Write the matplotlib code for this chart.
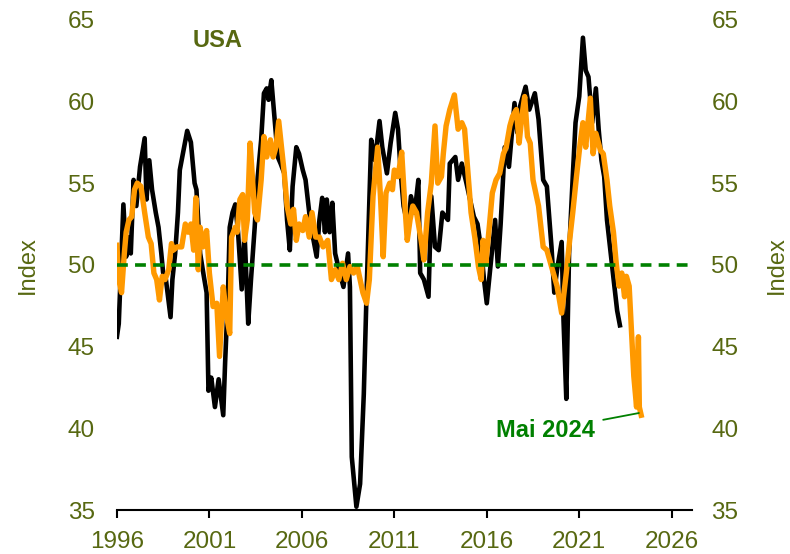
import matplotlib
matplotlib.use("Agg")
import matplotlib.pyplot as plt

plt.rcParams['font.family'] = ['Liberation Sans', 'DejaVu Sans']

# black series
black_years = [1996.0, 1996.1, 1996.35, 1996.5, 1996.6, 1996.75, 1996.9, 1997.05, 1997.25, 1997.5,
               1997.6, 1997.75, 1997.9, 1998.1, 1998.25, 1998.4, 1998.5, 1998.65, 1998.9, 1999.0,
               1999.15, 1999.3, 1999.4, 1999.6, 1999.8, 2000.0, 2000.2, 2000.3, 2000.5, 2000.7,
               2000.85, 2000.95, 2001.1, 2001.3, 2001.5, 2001.75, 2001.85, 2002.0, 2002.1, 2002.25,
               2002.4, 2002.55, 2002.75, 2002.9, 2003.1, 2003.25, 2003.45, 2003.6, 2003.8, 2003.95,
               2004.1, 2004.2, 2004.35, 2004.5, 2004.7, 2004.85, 2005.05, 2005.2, 2005.35, 2005.5,
               2005.7, 2005.85, 2006.05, 2006.2, 2006.4, 2006.6, 2006.8, 2006.95, 2007.1, 2007.25,
               2007.35, 2007.5, 2007.65, 2007.8, 2008.05, 2008.25, 2008.5, 2008.6, 2008.7, 2008.8,
               2008.95, 2009.15, 2009.35, 2009.5, 2009.65, 2009.75, 2009.95, 2010.2, 2010.35, 2010.6,
               2010.8, 2011.05, 2011.2, 2011.35, 2011.5, 2011.75, 2011.9, 2012.1, 2012.3, 2012.4,
               2012.6, 2012.85, 2013.0, 2013.2, 2013.4, 2013.6, 2013.9, 2014.0, 2014.3, 2014.45,
               2014.65, 2014.9, 2015.3, 2015.5, 2015.7, 2015.85, 2016.0, 2016.2, 2016.45, 2016.6,
               2016.75, 2016.97, 2017.2, 2017.5, 2017.65, 2017.8, 2018.1, 2018.3, 2018.6, 2018.8,
               2019.05, 2019.25, 2019.5, 2019.65, 2019.8, 2020.05, 2020.15, 2020.3, 2020.45, 2020.65,
               2020.8, 2021.0, 2021.2, 2021.35, 2021.5, 2021.7, 2021.9, 2022.05, 2022.2, 2022.35,
               2022.5, 2022.7, 2022.9, 2023.05, 2023.2]
black_values = [45.6, 46.4, 53.7, 50.5, 51.7, 50.7, 55.2, 53.6, 56.0, 57.75,
                54.0, 56.4, 54.6, 53.2, 52.3, 50.7, 49.5, 49.1, 46.8, 49.1,
                50.7, 53.2, 55.8, 57.0, 58.2, 57.5, 55.0, 54.6, 50.7, 49.3,
                48.3, 42.3, 43.1, 41.3, 43.0, 40.8, 44.0, 48.05, 52.3, 53.2,
                53.7, 52.0, 48.5, 52.0, 46.4, 49.1, 52.3, 55.2, 57.65, 60.5,
                60.8, 60.1, 61.3, 59.3, 56.6, 56.2, 55.6, 52.75, 50.9, 54.8,
                57.2, 56.8, 55.8, 55.2, 53.2, 51.7, 50.5, 52.75, 54.1, 52.0,
                54.0, 52.0, 53.8, 50.7, 49.5, 48.65, 50.7, 48.65, 38.25, 37.0,
                35.2, 36.6, 42.1, 48.3, 54.0, 57.65, 56.4, 58.8, 57.2, 55.6,
                57.45, 59.3, 58.3, 55.6, 53.6, 52.3, 54.2, 53.2, 55.2, 49.5,
                49.1, 48.05, 54.2, 51.1, 50.9, 53.2, 52.75, 56.2, 56.6, 55.2,
                56.2, 55.0, 52.95, 52.5, 50.9, 49.1, 47.65, 49.9, 52.75, 49.9,
                52.5, 57.2, 56.0, 59.9, 58.1, 59.7, 60.9, 59.5, 60.5, 58.9,
                55.2, 54.8, 51.1, 48.3, 49.7, 51.4, 46.6, 41.8, 50.7, 55.4,
                58.7, 60.3, 63.9, 61.9, 61.5, 58.7, 60.8, 58.3, 56.4, 55.4,
                52.75, 50.7, 48.7, 47.2, 46.3]

# orange series
orange_years = [1996.0, 1996.1, 1996.25, 1996.4, 1996.5, 1996.65, 1996.8, 1996.95, 1997.1, 1997.3,
                1997.5, 1997.7, 1997.85, 1998.0, 1998.15, 1998.3, 1998.45, 1998.6, 1998.8, 1998.95,
                1999.05, 1999.25, 1999.5, 1999.7, 1999.85, 2000.0, 2000.15, 2000.27, 2000.4, 2000.5,
                2000.65, 2000.85, 2001.0, 2001.2, 2001.4, 2001.55, 2001.75, 2001.9, 2002.1, 2002.2,
                2002.4, 2002.5, 2002.65, 2002.8, 2002.9, 2003.05, 2003.2, 2003.3, 2003.45, 2003.6,
                2003.8, 2003.95, 2004.1, 2004.3, 2004.45, 2004.6, 2004.75, 2004.9, 2005.05, 2005.2,
                2005.4, 2005.55, 2005.7, 2005.85, 2006.05, 2006.2, 2006.4, 2006.55, 2006.75, 2006.95,
                2007.15, 2007.4, 2007.6, 2007.8, 2008.0, 2008.2, 2008.4, 2008.6, 2008.8, 2009.0,
                2009.3, 2009.5, 2009.65, 2009.85, 2010.1, 2010.25, 2010.4, 2010.55, 2010.75, 2010.9,
                2011.0, 2011.2, 2011.4, 2011.55, 2011.7, 2011.85, 2012.0, 2012.2, 2012.45, 2012.6,
                2012.8, 2013.0, 2013.2, 2013.35, 2013.55, 2013.65, 2013.8, 2014.0, 2014.25, 2014.45,
                2014.65, 2014.8, 2015.0, 2015.15, 2015.35, 2015.55, 2015.7, 2015.8, 2015.95, 2016.15,
                2016.3, 2016.5, 2016.7, 2016.9, 2017.05, 2017.25, 2017.4, 2017.6, 2017.75, 2017.9,
                2018.05, 2018.2, 2018.35, 2018.5, 2018.65, 2018.8, 2019.05, 2019.25, 2019.5, 2019.8,
                2020.05, 2020.3, 2020.5, 2020.65, 2020.85, 2021.05, 2021.2, 2021.35, 2021.6, 2021.75,
                2021.9, 2022.15, 2022.3, 2022.5, 2022.65, 2022.85, 2023.0, 2023.15, 2023.3, 2023.45,
                2023.55, 2023.7, 2023.85, 2023.95, 2024.1, 2024.2, 2024.25, 2024.35]
orange_values = [51.2, 49.1, 48.3, 50.7, 52.0, 52.75, 52.95, 54.6, 55.0, 54.8,
                 53.2, 51.7, 51.3, 49.5, 49.1, 47.85, 49.3, 49.1, 49.7, 51.3,
                 50.9, 51.1, 51.1, 52.5, 52.0, 52.5, 50.9, 54.1, 49.7, 52.3,
                 51.1, 52.1, 49.5, 47.45, 47.65, 44.4, 48.65, 47.05, 45.8, 51.7,
                 52.3, 52.0, 54.0, 54.3, 51.5, 52.75, 57.45, 55.8, 53.2, 52.75,
                 55.2, 57.85, 56.6, 57.65, 56.6, 57.2, 58.8, 57.2, 55.6, 53.6,
                 52.5, 53.4, 51.5, 52.5, 52.1, 52.95, 51.7, 53.2, 51.7, 51.7,
                 51.1, 51.5, 49.1, 49.7, 49.1, 50.1, 49.1, 49.9, 49.5, 49.9,
                 48.3, 47.65, 49.1, 54.2, 57.2, 54.2, 50.5, 54.4, 55.0, 54.6,
                 55.8, 55.4, 56.9, 54.0, 51.5, 52.75, 53.6, 53.2, 51.5, 50.3,
                 53.2, 55.0, 58.5, 55.0, 55.4, 56.8, 58.5, 59.5, 60.4, 58.3,
                 58.7, 58.3, 55.4, 53.2, 51.7, 49.9, 49.1, 51.5, 50.1, 52.5,
                 54.4, 55.2, 55.6, 56.8, 57.2, 58.5, 59.1, 59.5, 57.45, 59.1,
                 60.3, 57.85, 57.45, 55.2, 54.4, 53.6, 51.1, 50.9, 49.9, 48.7,
                 47.05, 49.5, 51.7, 53.2, 55.4, 57.45, 58.7, 57.2, 60.2, 56.8,
                 58.05, 57.0, 56.8, 55.2, 53.6, 52.0, 50.1, 48.7, 49.5, 48.05,
                 49.3, 48.7, 45.4, 43.2, 41.3, 45.6, 41.3, 40.8]

x_ticks = [1996, 2001, 2006, 2011, 2016, 2021, 2026]
y_ticks = [35, 40, 45, 50, 55, 60, 65]

label_color = '#576811'
green = '#008000'

fig = plt.figure(figsize=(7.9, 5.54), dpi=100)
ax = fig.add_axes([0.148, 0.0794, 0.728, 0.885])

ax.plot(black_years, black_values, color='black', lw=3.3, solid_joinstyle='round', zorder=2)
ax.plot(orange_years, orange_values, color='#FF9900', lw=3.9, solid_joinstyle='round', zorder=3)
ax.plot([1996, 2027.1], [50, 50], color=green, lw=2.6, dashes=(3, 2), zorder=4)

ax.set_xlim(1996, 2027.1)
ax.set_ylim(35, 65)
ax.set_xticks(x_ticks)
ax.set_yticks(y_ticks)

for side in ['top', 'right', 'left']:
    ax.spines[side].set_visible(False)
ax.spines['bottom'].set_linewidth(1.5)
ax.tick_params(axis='x', direction='out', length=6, width=1.5, labelsize=17.5,
               labelcolor=label_color, pad=9)
ax.tick_params(axis='y', length=0, labelsize=17.5, labelcolor=label_color, pad=16)
ax.set_ylabel('Index', fontsize=17, color=label_color)
ax.yaxis.set_label_coords(-0.135, 0.5)

ax2 = ax.twinx()
ax2.set_ylim(35, 65)
ax2.set_yticks(y_ticks)
for side in ['top', 'right', 'left', 'bottom']:
    ax2.spines[side].set_visible(False)
ax2.tick_params(axis='y', length=0, labelsize=17.5, labelcolor=label_color, pad=14)
ax2.set_ylabel('Index', fontsize=17, color=label_color)
ax2.yaxis.set_label_coords(1.128, 0.5)

ax.text(2001.45, 63.7, 'USA', fontsize=17, fontweight='bold', color=label_color, ha='center', va='center')
ax.annotate('Mai 2024', xy=(2024.3, 40.95), xytext=(2021.85, 39.85),
            fontsize=17, fontweight='bold', color=green, ha='right', va='center',
            arrowprops=dict(arrowstyle='-', color=green, lw=1.3, shrinkA=4, shrinkB=1))

fig.savefig('out.png', dpi=100)
